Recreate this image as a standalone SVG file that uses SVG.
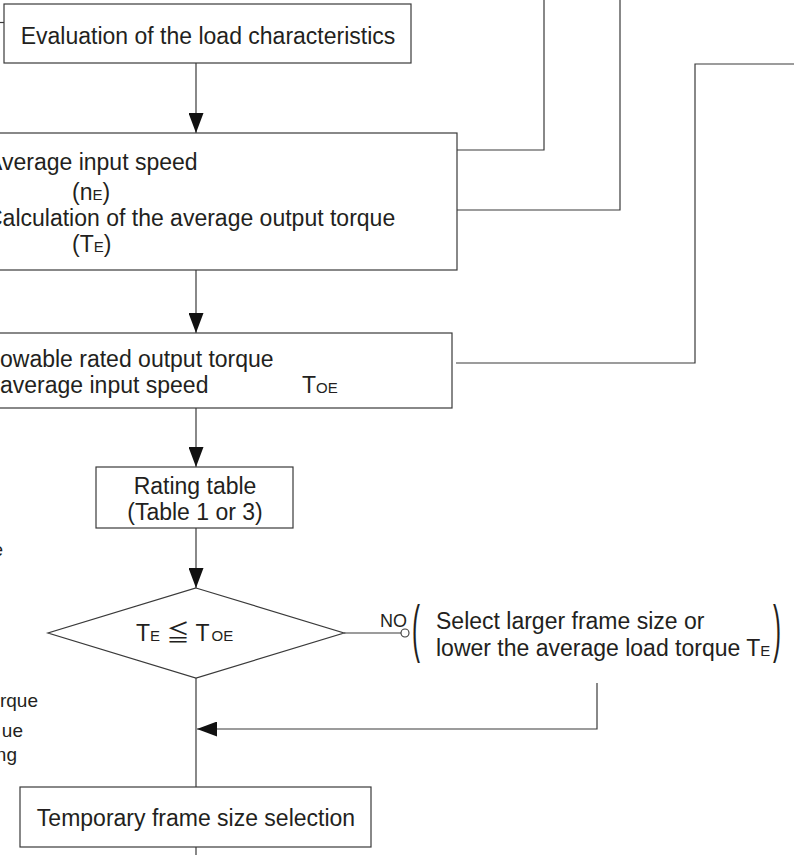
<svg xmlns="http://www.w3.org/2000/svg" width="794" height="855" viewBox="0 0 794 855">
<style>
.box{fill:#fff;stroke:#3a3a3a;stroke-width:1.2}
.ln{fill:none;stroke:#3a3a3a;stroke-width:1.2}
.t{font-family:"Liberation Sans","Noto Sans CJK JP",sans-serif;font-size:23px;fill:#231f20}
.c{text-anchor:middle}
.s{font-size:15px}
.sm{font-size:19px}
</style>
<defs>
<marker id="ah" markerUnits="userSpaceOnUse" viewBox="0 0 20 15" refX="20" refY="7.5" markerWidth="20" markerHeight="15" orient="auto">
<path d="M0,0 L20,7.5 L0,15 z" fill="#111"/>
</marker>
</defs>
<rect width="794" height="855" fill="#fff"/>

<g id="connectors">
<path class="ln" d="M196,63 V133" marker-end="url(#ah)"/>
<path class="ln" d="M196,270 V333" marker-end="url(#ah)"/>
<path class="ln" d="M196,408 V467" marker-end="url(#ah)"/>
<path class="ln" d="M196,528 V588" marker-end="url(#ah)"/>
<path class="ln" d="M196,678 V787"/>
<path class="ln" d="M196,847 V855"/>
<path class="ln" d="M597,683 V729 H197" marker-end="url(#ah)"/>
<path class="ln" d="M344,633 H401"/>
<circle cx="405" cy="633" r="4" fill="#fff" stroke="#3a3a3a" stroke-width="1.1"/>
<path class="ln" d="M457,150 H544 V0"/>
<path class="ln" d="M457,210 H620 V0"/>
<path class="ln" d="M456,363 H695 V64 H794"/>
<path class="ln" d="M0,22.5 H4"/>
</g>

<g id="n1">
<rect class="box" x="4" y="4" width="407" height="59"/>
<text class="t c" x="208" y="44">Evaluation of the load characteristics</text>
</g>

<g id="n2">
<rect class="box" x="-5" y="133" width="462" height="137"/>
<text class="t" x="-13" y="170">Average input speed</text>
<text class="t" x="72" y="200">(n<tspan class="s">E</tspan>)</text>
<text class="t" x="-14" y="226">Calculation of the average output torque</text>
<text class="t" x="72" y="252">(T<tspan class="s">E</tspan>)</text>
</g>

<g id="n3">
<rect class="box" x="-5" y="333" width="457" height="75"/>
<text class="t" x="0" y="367">owable rated output torque</text>
<text class="t" x="0" y="393">average input speed</text>
<text class="t" x="302" y="393">T<tspan class="s">OE</tspan></text>
</g>

<g id="n4">
<rect class="box" x="96" y="467" width="197" height="61"/>
<text class="t c" x="195" y="494">Rating table</text>
<text class="t c" x="195" y="520">(Table 1 or 3)</text>
</g>

<g id="n5">
<polygon class="box" points="196,588 344,633 196,678 48,633"/>
<text class="t" x="136" y="641">T<tspan class="s">E</tspan> ≦ T<tspan class="s" dx="2">OE</tspan></text>
</g>

<g id="n6">
<text class="t" x="380" y="627" style="font-size:18px">NO</text>
<text class="t" transform="translate(412,650) scale(1,2.6)" style="font-size:24px">(</text>
<text class="t" x="436" y="629">Select larger frame size or</text>
<text class="t" x="436" y="656">lower the average load torque T<tspan class="s">E</tspan></text>
<text class="t" transform="translate(773,650) scale(1,2.6)" style="font-size:24px">)</text>
</g>

<g id="n7">
<rect class="box" x="20" y="787" width="351" height="60"/>
<text class="t c" x="196" y="826">Temporary frame size selection</text>
</g>

<g id="side">
<text class="t sm" x="3" y="556" text-anchor="end">e</text>
<text class="t sm" x="38" y="707" text-anchor="end">rque</text>
<text class="t sm" x="23" y="737" text-anchor="end">ue</text>
<text class="t sm" x="17" y="761" text-anchor="end">ng</text>
</g>
</svg>
